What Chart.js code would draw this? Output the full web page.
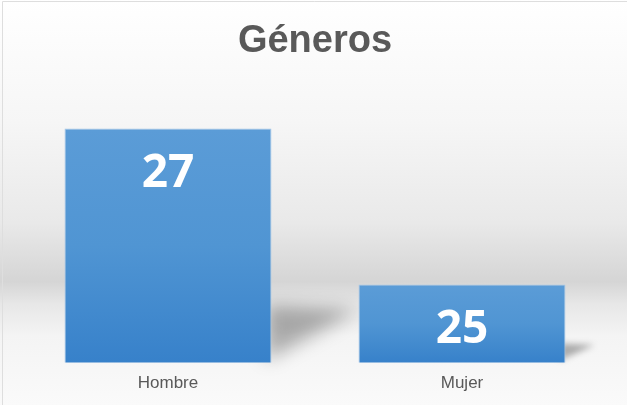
<!DOCTYPE html>
<html>
<head>
<meta charset="utf-8">
<script src="https://cdn.jsdelivr.net/npm/chart.js@4"></script>
<style>
  html, body { margin: 0; padding: 0; background: #fff; }
  #wrap { width: 627px; height: 405px; position: relative; }
</style>
</head>
<body>
<div id="wrap"><canvas id="chart1"></canvas></div>
<script>
var categories = ['Hombre', 'Mujer'];
var values = [27, 25];
var chartTitle = 'Géneros';
var axisMin = 24;
var axisMax = 27.5;
var barShare = 0.704;

// background: soft grey band like the office "floor"
var backdrop = {
	id: 'backdrop',
	beforeDraw: function(chart) {
		var ctx = chart.ctx, w = chart.width, h = chart.height;
		ctx.save();
		var g = ctx.createLinearGradient(0, 0, 0, h);
		g.addColorStop(0, '#ffffff');
		g.addColorStop(0.3, '#f6f6f6');
		g.addColorStop(0.55, '#e9e9e9');
		g.addColorStop(0.695, '#d5d5d5');
		g.addColorStop(0.75, '#e7e7e7');
		g.addColorStop(0.83, '#f4f4f4');
		g.addColorStop(1, '#fafafa');
		ctx.fillStyle = g;
		ctx.fillRect(0, 0, w, h);
		ctx.strokeStyle = '#dedede';
		ctx.lineWidth = 1;
		ctx.beginPath();
		ctx.moveTo(2.5, h);
		ctx.lineTo(2.5, 1.5);
		ctx.lineTo(w, 1.5);
		ctx.stroke();
		ctx.restore();
	},
	beforeDatasetsDraw: function(chart) {
		// soft cast shadow behind each bar
		var ctx = chart.ctx;
		var xs = chart.scales.x, ys = chart.scales.y;
		var half = (chart.chartArea.right - chart.chartArea.left) / categories.length * barShare / 2;
		var base = ys.getPixelForValue(axisMin);
		values.forEach(function(v, i) {
			var right = xs.getPixelForValue(i) + half;
			var bh = base - ys.getPixelForValue(v);
			ctx.save();
			ctx.filter = 'blur(' + Math.max(3, bh * 0.038).toFixed(1) + 'px)';
			ctx.fillStyle = 'rgba(0,0,0,0.3)';
			ctx.beginPath();
			ctx.moveTo(right - 6, base - 2);
			ctx.lineTo(right - 6, base - bh * 0.245);
			ctx.lineTo(right + bh * 0.37, base - bh * 0.225);
			ctx.closePath();
			ctx.fill();
			ctx.restore();
		});
	},
	afterDatasetsDraw: function(chart) {
		var ctx = chart.ctx;
		ctx.save();
		ctx.fillStyle = '#ffffff';
		ctx.font = 'bold 46px "Open Sans"';
		ctx.textAlign = 'center';
		ctx.textBaseline = 'middle';
		chart.getDatasetMeta(0).data.forEach(function(bar, i) {
			var off = Math.min(45, (bar.base - bar.y) / 2);
			ctx.fillText(String(values[i]), bar.x, bar.y + off);
		});
		ctx.restore();
	}
};

function barFill(context) {
	var chart = context.chart;
	if (!chart.chartArea) return '#4f91d1';
	var y = chart.scales.y;
	var top = y.getPixelForValue(context.raw);
	var bottom = y.getPixelForValue(axisMin);
	var g = chart.ctx.createLinearGradient(0, top, 0, bottom);
	g.addColorStop(0, '#5b9cd7');
	g.addColorStop(0.5, '#5095d3');
	g.addColorStop(1, '#3781ca');
	return g;
}

var chart1 = new Chart(document.getElementById('chart1').getContext('2d'), {
	type: 'bar',
	data: {
		labels: categories,
		datasets: [{
			data: values,
			backgroundColor: barFill,
			borderColor: '#a3c6e8',
			borderWidth: 1,
			borderSkipped: false,
			categoryPercentage: 1,
			barPercentage: barShare
		}]
	},
	options: {
		responsive: true,
		maintainAspectRatio: false,
		animation: false,
		layout: { padding: { left: 21, right: 18, top: 0, bottom: 0 } },
		plugins: {
			legend: { display: false },
			tooltip: { enabled: false },
			title: {
				display: true,
				text: chartTitle,
				color: '#595959',
				font: { family: '"Liberation Sans", Arial', size: 38, weight: 'bold' },
				padding: { top: 19, bottom: 25 }
			}
		},
		scales: {
			x: {
				grid: { display: false, drawTicks: false },
				border: { display: false },
				ticks: {
					color: '#595959',
					padding: 11,
					font: { family: '"Liberation Sans", Arial', size: 17 }
				}
			},
			y: {
				display: false,
				min: axisMin,
				max: axisMax
			}
		}
	},
	plugins: [backdrop]
});
</script>
</body>
</html>
